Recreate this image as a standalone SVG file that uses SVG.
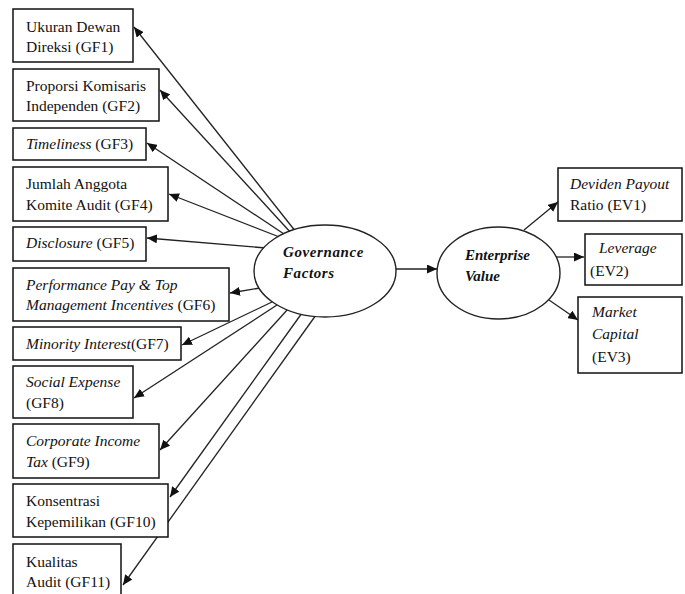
<svg xmlns="http://www.w3.org/2000/svg" width="685" height="594" viewBox="0 0 685 594">
<defs>
<marker id="ah" markerUnits="userSpaceOnUse" markerWidth="11" markerHeight="9" refX="10" refY="4.5" orient="auto">
<path d="M0,0 L10,4.5 L0,9 z" fill="#111"/>
</marker>
<style>
.box{fill:#fff;stroke:#111;stroke-width:1.5}
.ell{fill:#fff;stroke:#222;stroke-width:1.4}
.c{stroke:#222;stroke-width:1.3;fill:none;marker-end:url(#ah)}
text{font-family:"Liberation Serif","Times New Roman",serif;font-size:15.5px;fill:#111}
.i{font-style:italic}
.b{font-style:italic;font-weight:bold;font-size:15px}
.g{letter-spacing:0.6px}
</style>
</defs>
<rect width="685" height="594" fill="#fff"/>
<g id="connectors">
<line class="c" x1="296" y1="232" x2="134" y2="27"/>
<line class="c" x1="292" y1="234" x2="160" y2="90"/>
<line class="c" x1="287" y1="236" x2="147" y2="143"/>
<line class="c" x1="282" y1="238" x2="169" y2="194"/>
<line class="c" x1="266" y1="248" x2="147" y2="238"/>
<line class="c" x1="260" y1="288" x2="230" y2="293"/>
<line class="c" x1="272" y1="302" x2="182" y2="345"/>
<line class="c" x1="277" y1="305" x2="134" y2="398"/>
<line class="c" x1="288" y1="309" x2="160" y2="450"/>
<line class="c" x1="302" y1="313" x2="170" y2="497"/>
<line class="c" x1="316" y1="315" x2="123" y2="585"/>
<line class="c" x1="396" y1="269" x2="437" y2="269"/>
<line class="c" x1="524" y1="230" x2="558" y2="202"/>
<line class="c" x1="556" y1="257" x2="584" y2="257"/>
<line class="c" x1="549" y1="300" x2="578" y2="320"/>
</g>
<g id="gf1"><rect class="box" x="13" y="9" width="120" height="53"/><text x="26" y="32">Ukuran Dewan</text><text x="26" y="52">Direksi (GF1)</text></g>
<g id="gf2"><rect class="box" x="13" y="69" width="146" height="52"/><text x="26" y="91">Proporsi Komisaris</text><text x="26" y="111">Independen (GF2)</text></g>
<g id="gf3"><rect class="box" x="13" y="128" width="133" height="32"/><text x="26" y="149"><tspan class="i">Timeliness</tspan> (GF3)</text></g>
<g id="gf4"><rect class="box" x="13" y="167" width="155" height="54"/><text x="26" y="189">Jumlah Anggota</text><text x="26" y="210">Komite Audit (GF4)</text></g>
<g id="gf5"><rect class="box" x="13" y="227" width="133" height="34"/><text x="26" y="248"><tspan class="i">Disclosure</tspan> (GF5)</text></g>
<g id="gf6"><rect class="box" x="13" y="268" width="216" height="53"/><text x="26" y="290" class="i">Performance Pay &amp; Top</text><text x="26" y="310"><tspan class="i">Management Incentives</tspan> (GF6)</text></g>
<g id="gf7"><rect class="box" x="13" y="327" width="168" height="33"/><text x="26" y="349"><tspan class="i">Minority Interest</tspan>(GF7)</text></g>
<g id="gf8"><rect class="box" x="13" y="366" width="120" height="52"/><text x="26" y="387" class="i">Social Expense</text><text x="26" y="408">(GF8)</text></g>
<g id="gf9"><rect class="box" x="13" y="424" width="146" height="54"/><text x="26" y="446" class="i">Corporate Income</text><text x="26" y="467"><tspan class="i">Tax</tspan> (GF9)</text></g>
<g id="gf10"><rect class="box" x="13" y="484" width="155" height="53"/><text x="26" y="506">Konsentrasi</text><text x="26" y="527">Kepemilikan (GF10)</text></g>
<g id="gf11"><rect class="box" x="13" y="544" width="108" height="60"/><text x="26" y="567">Kualitas</text><text x="26" y="587">Audit (GF11)</text></g>
<g id="governance"><ellipse class="ell" cx="325" cy="271" rx="71" ry="46"/><text x="283" y="257" class="b g">Governance</text><text x="283" y="278" class="b g">Factors</text></g>
<g id="enterprise"><ellipse class="ell" cx="498.5" cy="273" rx="61.5" ry="46"/><text x="465" y="260" class="b">Enterprise</text><text x="465" y="281" class="b">Value</text></g>
<g id="ev1"><rect class="box" x="558" y="168" width="124" height="53"/><text x="570" y="189" class="i">Deviden Payout</text><text x="570" y="210">Ratio (EV1)</text></g>
<g id="ev2"><rect class="box" x="585" y="234" width="97" height="51"/><text x="599" y="253" class="i">Leverage</text><text x="590" y="276">(EV2)</text></g>
<g id="ev3"><rect class="box" x="578" y="297" width="104" height="76"/><text x="592" y="317" class="i">Market</text><text x="592" y="339" class="i">Capital</text><text x="592" y="362">(EV3)</text></g>
</svg>
